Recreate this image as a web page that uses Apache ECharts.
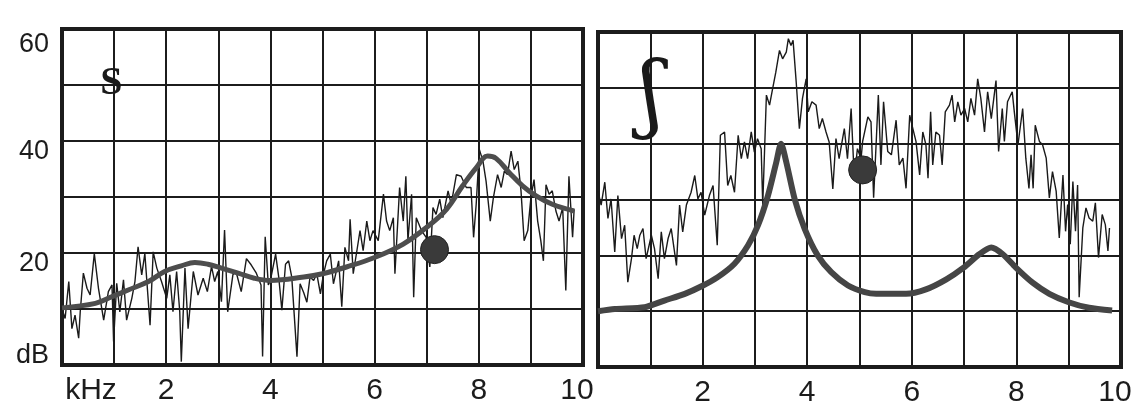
<!DOCTYPE html>
<html><head><meta charset="utf-8">
<script src="https://cdn.jsdelivr.net/npm/echarts@6/dist/echarts.min.js"></script>
<style>html,body{margin:0;padding:0;background:#fff}#c{width:1132px;height:412px}</style>
</head><body><div id="c"></div>
<script>
// ---- tick labels ----
const xTickValues = [0, 2, 4, 6, 8, 10];
const xTickTextLeft = ['kHz', '2', '4', '6', '8', '10'];
const xTickTextRight = ['', '2', '4', '6', '8', '10'];
const yTickValues = [0, 20, 40, 60];
const yTickText = ['dB', '20', '40', '60'];

// ---- panel "s": noisy spectrum ----
const sNoiseKHz = [0.00,0.06,0.13,0.19,0.25,0.32,0.35,0.41,0.48,0.54,0.62,0.70,0.80,0.89,0.96,0.99,1.05,1.11,1.18,1.24,1.34,1.40,1.46,1.53,1.59,1.69,1.75,1.82,1.91,2.01,2.07,2.13,2.20,2.26,2.29,2.36,2.42,2.52,2.61,2.71,2.79,2.87,2.93,2.99,3.06,3.12,3.18,3.28,3.34,3.44,3.54,3.63,3.73,3.82,3.85,3.90,3.96,
4.00,4.10,4.16,4.22,4.29,4.35,4.41,4.51,4.57,4.64,4.70,4.76,4.83,4.89,4.96,5.02,5.08,5.15,5.21,5.31,5.37,5.43,5.50,5.53,5.59,5.66,5.72,5.78,5.85,5.91,5.97,6.07,6.17,6.23,6.29,6.36,6.39,6.48,6.55,6.60,6.64,6.71,6.75,6.80,6.90,6.99,7.06,7.12,7.18,7.25,7.31,7.41,7.47,7.57,7.66,7.76,7.85,7.90,7.95,8.01,8.08,8.14,8.22,8.28,8.36,8.43,8.49,8.55,8.62,8.68,8.75,8.81,8.87,8.94,9.00,9.06,9.13,9.19,9.24,9.29,9.35,9.41,9.48,9.54,9.61,9.67,9.73,9.80,9.83];
const sNoiseDb = [10.0,8.3,14.9,6.5,8.9,4.8,9.5,16.4,13.7,12.5,19.9,13.7,8.0,13.1,14.3,4.2,14.6,9.5,15.2,8.0,11.9,14.9,21.1,16.1,19.9,7.1,20.2,17.3,14.9,11.9,16.1,9.5,16.7,9.5,0.6,17.3,6.5,16.7,12.5,15.5,13.1,17.6,14.9,16.7,11.3,24.1,9.5,16.1,16.7,13.1,19.0,17.9,16.4,14.3,1.5,22.9,14.3,
15.1,19.8,15.7,9.8,18.0,18.6,15.7,1.5,14.5,12.9,11.2,15.7,15.1,16.3,12.7,16.3,18.6,19.8,14.5,18.6,10.4,21.0,18.6,26.0,16.3,20.4,24.0,20.4,25.7,22.2,24.0,22.2,30.5,25.7,24.0,26.3,16.3,31.7,25.7,33.7,22.2,30.5,12.1,26.3,24.0,22.8,17.5,28.1,26.9,29.6,26.3,31.1,28.7,34.0,33.7,31.7,31.7,22.8,28.7,38.5,36.4,32.8,25.7,29.9,34.0,31.7,34.6,34.0,38.2,34.9,36.4,31.1,22.2,24.0,29.9,33.1,25.7,22.2,18.6,32.2,30.5,31.1,27.5,25.7,28.1,13.3,33.7,22.8,27.8];

// ---- panel "s": smooth envelope ----
const sEnvKHz = [0.00,0.64,0.96,1.27,1.66,1.97,2.29,2.55,2.80,3.06,3.38,3.69,4.00,4.64,5.00,5.46,6.00,6.55,7.00,7.38,7.69,7.95,8.17,8.33,8.59,8.84,9.10,9.41,9.83];
const sEnvDb = [10.2,11.0,12.2,13.4,14.9,16.7,17.7,18.3,18.0,17.3,16.4,15.5,15.1,15.7,16.3,17.5,19.2,21.6,24.6,27.8,32.0,35.2,37.3,36.9,34.3,32.0,30.2,28.7,27.5];

// ---- panel "ʃ": noisy spectrum ----
const shNoiseKHz = [0.00,0.06,0.13,0.19,0.25,0.32,0.38,0.45,0.51,0.57,0.64,0.69,0.75,0.80,0.86,0.92,1.02,1.08,1.15,1.21,1.27,1.34,1.40,1.50,1.56,1.62,1.69,1.78,1.85,1.91,1.97,2.04,2.13,2.20,2.28,2.34,2.42,2.48,2.54,2.61,2.68,2.74,2.80,2.86,2.93,2.99,3.05,3.12,3.15,3.22,3.28,3.34,3.40,3.47,3.53,3.60,3.64,3.69,3.73,3.79,3.85,3.91,3.98,4.02,4.09,4.17,4.23,4.29,4.36,4.42,4.49,4.55,4.61,4.71,4.77,4.84,4.90,4.96,5.03,
5.06,5.16,5.22,5.27,5.32,5.36,5.41,5.46,5.54,5.61,5.70,5.76,5.83,5.89,5.96,6.02,6.08,6.15,6.21,6.27,6.31,6.36,6.40,6.46,6.53,6.58,6.64,6.72,6.77,6.82,6.88,6.94,7.01,7.07,7.13,7.20,7.26,7.32,7.39,7.45,7.52,7.61,7.66,7.73,7.77,7.83,7.92,7.96,8.03,8.12,8.18,8.24,8.28,8.32,8.36,8.44,8.50,8.57,8.63,8.69,8.76,8.82,8.89,8.94,8.98,9.03,9.08,9.13,9.17,9.20,9.27,9.33,9.39,9.46,9.51,9.57,9.64,9.70,9.75,9.78];
const shNoiseDb = [31.5,29.0,33.1,26.6,30.1,20.6,30.7,23.0,25.4,15.2,19.4,23.6,21.2,23.6,24.8,19.4,23.6,21.2,15.8,24.2,19.4,23.0,24.8,18.2,29.0,24.2,29.0,31.3,34.3,30.1,31.3,27.2,30.7,32.5,21.8,41.5,42.1,32.5,34.3,31.3,41.5,37.3,40.3,37.3,42.1,38.5,40.9,39.1,29.0,48.7,46.9,49.9,52.8,56.7,55.2,56.4,58.8,57.6,58.5,51.0,42.7,48.1,51.6,45.7,47.5,46.9,42.7,44.5,42.1,40.3,31.9,40.9,37.3,42.7,37.3,46.3,33.7,39.1,37.3,
40.4,44.8,43.9,30.3,40.4,48.7,36.2,47.5,38.6,38.0,44.2,36.2,37.4,32.0,45.1,42.7,40.4,34.4,42.1,39.8,33.8,45.7,36.2,42.1,41.5,36.2,45.7,46.9,48.7,43.9,47.5,45.1,46.3,43.9,48.1,45.1,51.6,48.1,42.1,49.3,44.5,51.3,38.6,46.3,40.4,47.5,49.3,45.7,39.8,46.3,37.4,32.0,38.0,32.0,43.3,40.4,39.8,37.4,30.3,35.0,31.5,23.1,34.4,24.3,29.1,22.0,33.2,24.3,32.6,12.5,24.9,28.5,26.7,26.1,29.4,19.6,27.3,25.5,20.8,24.9];

// ---- panel "ʃ": smooth envelope ----
const shEnvKHz = [0.00,0.32,0.89,1.27,1.66,1.99,2.29,2.61,2.87,3.06,3.25,3.41,3.50,3.60,3.76,3.95,4.20,4.46,4.78,5.10,5.32,5.89,6.27,6.66,6.99,7.29,7.52,7.74,7.99,8.31,8.63,9.00,9.39,9.83];
const shEnvDb = [10.0,10.4,10.7,11.9,13.1,14.5,16.1,18.5,21.8,25.4,30.7,36.7,40.0,36.7,30.1,24.8,20.0,17.0,14.6,13.4,13.1,13.1,13.9,15.7,17.8,20.2,21.4,20.2,17.8,15.1,13.1,11.6,10.6,10.1];

// ---- dots and panel symbols ----
const dotKHz = [7.15, 5.06];
const dotDb = [20.6, 35.3];
const panelSymbols = ['S', 'ʃ'];
const symbolKHz = [0.95, 1.02];
const symbolDb = [50.3, 48.0];

const pairs = (xs, ys) => xs.map((x, i) => [x, ys[i]]);
const INK = '#1c1c1c';
const FONT = 'Liberation Sans, Arial, sans-serif';

function xAxisFor(gi, texts) {
  return {
    type: 'value', gridIndex: gi, min: 0, max: 10, interval: 1,
    axisLine: { show: false }, axisTick: { show: false },
    splitLine: { show: true, lineStyle: { color: INK, width: 2 } },
    axisLabel: {
      show: true, margin: 11, color: INK, fontFamily: FONT, fontSize: 30,
      showMinLabel: true, showMaxLabel: true,
      formatter: v => {
        const i = xTickValues.indexOf(Math.round(v));
        if (i < 0 || Math.abs(v - Math.round(v)) > 1e-6) return '';
        const t = texts[i];
        if (!t) return '';
        if (i === 0) return '{k|' + t + '}';
        if (i === xTickValues.length - 1) return '{m|' + t + '}';
        return t;
      },
      rich: {
        k: { fontSize: 30, fontFamily: FONT, color: INK, padding: [0, 0, 0, 58] },
        m: { fontSize: 30, fontFamily: FONT, color: INK, padding: [0, 12, 0, 0] }
      }
    }
  };
}
function yAxisFor(gi, showLabels) {
  return {
    type: 'value', gridIndex: gi, min: 0, max: 60, interval: 10,
    axisLine: { show: false }, axisTick: { show: false },
    splitLine: { show: true, lineStyle: { color: INK, width: 2 } },
    axisLabel: {
      show: showLabels, margin: 13, color: INK, fontFamily: FONT, fontSize: 27,
      showMinLabel: true, showMaxLabel: true,
      formatter: v => {
        const i = yTickValues.indexOf(Math.round(v));
        if (i < 0) return '';
        if (i === 0) return '{d|' + yTickText[i] + '}';
        if (i === yTickValues.length - 1) return '{t|' + yTickText[i] + '}';
        return '{n|' + yTickText[i] + '}';
      },
      rich: {
        n: { fontSize: 27, fontFamily: FONT, color: INK, padding: [22, 0, 0, 0] },
        t: { fontSize: 27, fontFamily: FONT, color: INK, padding: [32, 0, 0, 0] },
        d: { fontSize: 27, fontFamily: FONT, color: INK, padding: [0, 0, 18, 0] }
      }
    }
  };
}

const chart = echarts.init(document.getElementById('c'), null, { renderer: 'canvas' });
const option = {
  backgroundColor: '#ffffff',
  animation: false,
  grid: [
    { left: 62, top: 29, width: 521, height: 336, show: true, borderColor: INK, borderWidth: 4, backgroundColor: 'transparent', containLabel: false, outerBoundsMode: 'none' },
    { left: 598, top: 32, width: 523, height: 335, show: true, borderColor: INK, borderWidth: 4, backgroundColor: 'transparent', containLabel: false, outerBoundsMode: 'none' }
  ],
  xAxis: [xAxisFor(0, xTickTextLeft), xAxisFor(1, xTickTextRight)],
  yAxis: [yAxisFor(0, true), yAxisFor(1, false)],
  series: [
    { type: 'line', xAxisIndex: 0, yAxisIndex: 0, data: pairs(sNoiseKHz, sNoiseDb), showSymbol: false,
      lineStyle: { color: '#1a1a1a', width: 1.4 }, z: 3 },
    { type: 'line', xAxisIndex: 0, yAxisIndex: 0, data: pairs(sEnvKHz, sEnvDb), showSymbol: false, smooth: 0.4,
      lineStyle: { color: '#4d4d4d', width: 5 }, z: 4 },
    { type: 'line', xAxisIndex: 1, yAxisIndex: 1, data: pairs(shNoiseKHz, shNoiseDb), showSymbol: false,
      lineStyle: { color: '#1a1a1a', width: 1.4 }, z: 3 },
    { type: 'line', xAxisIndex: 1, yAxisIndex: 1, data: pairs(shEnvKHz, shEnvDb), showSymbol: false, smooth: 0.25,
      lineStyle: { color: '#454545', width: 6 }, z: 4 },
    { type: 'scatter', xAxisIndex: 0, yAxisIndex: 0, data: [[dotKHz[0], dotDb[0]]], symbolSize: 28,
      itemStyle: { color: '#3a3a3a', borderColor: '#222', borderWidth: 1, opacity: 1 }, z: 5 },
    { type: 'scatter', xAxisIndex: 1, yAxisIndex: 1, data: [[dotKHz[1], dotDb[1]]], symbolSize: 28,
      itemStyle: { color: '#3a3a3a', borderColor: '#222', borderWidth: 1, opacity: 1 }, z: 5 }
  ]
};
chart.setOption(option);

const p0 = chart.convertToPixel({ gridIndex: 0 }, [symbolKHz[0], symbolDb[0]]);
const p1 = chart.convertToPixel({ gridIndex: 1 }, [symbolKHz[1], symbolDb[1]]);
chart.setOption({
  graphic: [
    { type: 'text', x: p0[0], y: p0[1], z: 10,
      style: { text: panelSymbols[0], fill: '#1a1a1a', font: 'bold 40px "Liberation Serif", serif', align: 'center', verticalAlign: 'middle' } },
    { type: 'text', x: p1[0], y: p1[1], z: 10,
      style: { text: panelSymbols[1], fill: '#1a1a1a', font: '84px "DejaVu Serif", serif', align: 'center', verticalAlign: 'middle' } }
  ]
});
</script>
</body></html>
